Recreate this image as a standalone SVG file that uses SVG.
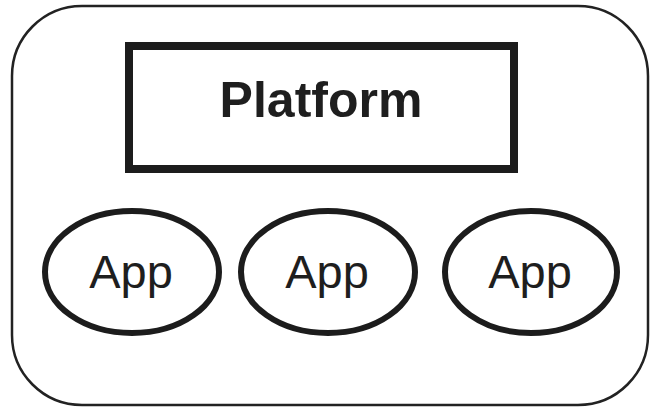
<svg xmlns="http://www.w3.org/2000/svg" width="651" height="408" viewBox="0 0 651 408">
<style>
.outer{fill:#fff;stroke:#222;stroke-width:2.5}
.plat{fill:#fff;stroke:#1c1c1c;stroke-width:8}
.app{fill:#fff;stroke:#1c1c1c;stroke-width:6}
.t1{font-family:"Liberation Sans",Arial,sans-serif;font-weight:bold;font-size:50px;fill:#1e1e1e;text-anchor:middle}
.t2{font-family:"Liberation Sans",Arial,sans-serif;font-size:47px;fill:#1e1e1e;text-anchor:middle}
</style>
<rect width="651" height="408" fill="#fff"/>
<g id="container"><rect class="outer" x="12" y="6" width="636" height="399" rx="70" ry="70"/></g>
<g id="platform">
<rect class="plat" x="129" y="46" width="385" height="123"/>
<text class="t1" x="321" y="117">Platform</text>
</g>
<g id="app1">
<ellipse class="app" cx="132" cy="272" rx="87" ry="61"/>
<text class="t2" x="131" y="288">App</text>
</g>
<g id="app2">
<ellipse class="app" cx="328" cy="272" rx="87" ry="61"/>
<text class="t2" x="327" y="288">App</text>
</g>
<g id="app3">
<ellipse class="app" cx="531" cy="272" rx="86" ry="61"/>
<text class="t2" x="530" y="288">App</text>
</g>
<g id="connectors"></g>
</svg>
